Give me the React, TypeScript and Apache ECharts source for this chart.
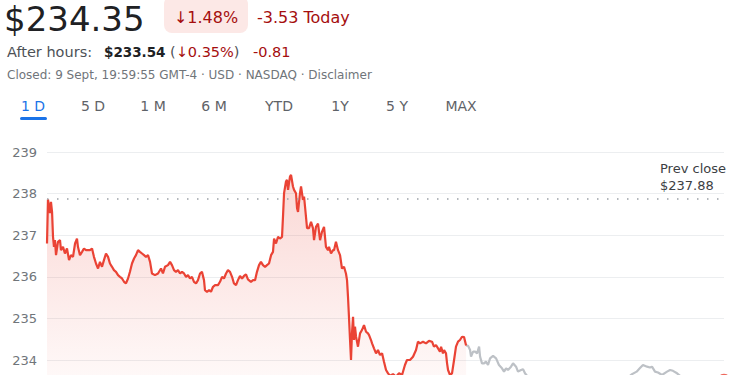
import React, { useEffect, useRef } from "react";
import * as echarts from "echarts";

// Quote header values
const price = "$234.35";
const changePct = "↓1.48%";
const changeAbs = "-3.53 Today";
const afterHoursLabel = "After hours:";
const afterHoursPrice = "$233.54";
const afterHoursPct = "↓0.35%";
const afterHoursAbs = "-0.81";
const closedLine = "Closed: 9 Sept, 19:59:55 GMT-4 · USD · NASDAQ · Disclaimer";
const tabs = ["1 D", "5 D", "1 M", "6 M", "YTD", "1Y", "5 Y", "MAX"];
const prevClose = 237.88;
const yTicks = [233, 234, 235, 236, 237, 238, 239];

// minutes since 09:30, price  (regular session 09:30–16:00)
const sessionData: [number, number][] = [
  [0, 236.8], [0.9, 237.86], [2.8, 237.53], [3.7, 237.8], [4.7, 237.56], [5.6, 236.96],
  [6.5, 236.72], [7.4, 236.88], [8.4, 236.52], [10.2, 236.84], [12.1, 236.88], [13.0, 236.64],
  [14.9, 236.72], [16.7, 236.56], [18.6, 236.68], [20.5, 236.4], [22.3, 236.52], [24.2, 236.48],
  [26.1, 236.8], [27.9, 236.92], [28.8, 236.72], [30.7, 236.52], [32.6, 236.6], [34.4, 236.68],
  [36.3, 236.64], [38.2, 236.64], [40.0, 236.64], [41.9, 236.68], [43.7, 236.48], [45.6, 236.32],
  [47.5, 236.2], [49.3, 236.36], [51.2, 236.24], [53.0, 236.4], [54.9, 236.56], [56.8, 236.48],
  [58.6, 236.32], [60.5, 236.24], [62.3, 236.16], [64.2, 236.12], [66.1, 236.04], [67.9, 236.0],
  [69.8, 235.96], [71.7, 235.88], [73.5, 235.84], [75.4, 235.96], [77.2, 236.12], [79.1, 236.32],
  [81.0, 236.44], [82.8, 236.52], [84.7, 236.64], [86.5, 236.6], [88.4, 236.56], [90.3, 236.52],
  [92.1, 236.48], [94.0, 236.52], [95.9, 236.36], [97.7, 236.08], [100.5, 236.04], [103.3, 236.08],
  [106.1, 236.2], [107.9, 236.08], [109.8, 236.24], [112.6, 236.28], [114.5, 236.36], [116.3, 236.28],
  [118.2, 236.16], [120.0, 236.12], [121.9, 236.16], [123.8, 236.08], [125.6, 236.12], [127.5, 236.08],
  [129.4, 236.0], [131.2, 236.04], [133.1, 235.96], [134.9, 236.0], [136.8, 235.88], [138.7, 235.84],
  [140.5, 235.92], [142.4, 236.08], [144.2, 236.12], [146.1, 235.92], [147.0, 235.68], [148.9, 235.64],
  [150.8, 235.68], [152.6, 235.64], [154.5, 235.76], [156.4, 235.8], [159.1, 235.8], [161.0, 235.88],
  [162.9, 236.0], [164.7, 235.96], [166.6, 236.08], [168.4, 236.16], [170.3, 236.12], [172.2, 236.0],
  [174.0, 235.84], [175.9, 235.8], [177.7, 235.92], [179.6, 236.02], [181.5, 235.96], [183.3, 236.02],
  [185.2, 236.06], [187.0, 235.94], [189.8, 235.88], [191.7, 235.92], [193.6, 235.92], [195.4, 236.12],
  [197.3, 236.28], [199.1, 236.36], [201.0, 236.28], [202.9, 236.24], [204.7, 236.28], [206.6, 236.32],
  [208.5, 236.52], [210.3, 236.6], [211.3, 236.92], [213.1, 236.8], [215.0, 236.96], [216.8, 236.92],
  [218.7, 236.96], [219.6, 237.44], [220.6, 238.01], [222.4, 238.29], [223.3, 238.33], [224.3, 238.09],
  [226.1, 238.41], [227.1, 238.45], [228.9, 238.17], [229.9, 238.09], [231.7, 238.01], [232.7, 237.65],
  [233.6, 237.56], [235.4, 238.01], [236.4, 238.17], [238.2, 237.85], [239.2, 237.93], [240.1, 237.69],
  [242.0, 237.17], [243.8, 237.17], [245.7, 237.32], [247.5, 237.17], [248.5, 236.88], [250.3, 237.2],
  [252.2, 237.28], [254.1, 236.88], [255.9, 237.08], [257.8, 237.2], [259.6, 236.72], [261.5, 236.64],
  [262.4, 236.72], [264.3, 236.56], [266.2, 236.64], [267.1, 236.64], [268.9, 236.84], [270.8, 236.64],
  [272.7, 236.52], [274.5, 236.2], [276.4, 236.24], [278.2, 236.08], [279.2, 235.92], [280.1, 235.52],
  [281.0, 235.04], [282.0, 234.48], [282.9, 234.0], [283.8, 234.64], [284.8, 235.04], [285.7, 234.48],
  [286.6, 234.8], [287.6, 234.56], [289.4, 234.32], [291.3, 234.64], [293.1, 234.72], [295.0, 234.84],
  [296.9, 234.68], [298.7, 234.64], [299.7, 234.6], [301.5, 234.48], [302.5, 234.4], [304.3, 234.28],
  [306.2, 234.16], [308.0, 234.24], [309.9, 234.12], [311.8, 234.16], [313.6, 233.96], [315.5, 233.76],
  [317.4, 233.68], [319.2, 233.62], [322.0, 233.66], [324.8, 233.6], [327.6, 233.68], [330.4, 233.64],
  [333.1, 233.88], [335.0, 234.0], [337.8, 234.0], [340.6, 234.08], [343.4, 234.24], [345.2, 234.44],
  [347.1, 234.4], [349.9, 234.44], [352.7, 234.4], [355.5, 234.46], [358.3, 234.44], [360.1, 234.32],
  [362.0, 234.36], [363.9, 234.28], [365.7, 234.2], [366.7, 234.32], [368.5, 234.16], [369.5, 234.24],
  [371.3, 234.16], [372.3, 233.92], [373.2, 233.76], [375.0, 233.64], [376.9, 233.68], [378.8, 234.0],
  [380.6, 234.32], [382.5, 234.44], [384.3, 234.48], [386.2, 234.56], [388.1, 234.55], [390.0, 234.35],
];

// minutes since 09:30, price  (after hours 16:00–20:00)
const afterHoursData: [number, number][] = [
  [390.0, 234.35], [391.9, 234.34], [393.7, 234.24], [394.6, 234.08], [396.5, 234.2], [398.4, 234.2],
  [400.2, 234.16], [402.1, 234.32], [403.0, 234.08], [404.8, 233.92], [406.7, 233.92], [408.5, 233.96],
  [410.4, 233.88], [412.3, 234.04], [415.1, 234.1], [417.9, 234.04], [420.6, 233.88], [423.4, 233.8],
  [425.3, 233.72], [427.2, 233.8], [429.0, 233.76], [431.8, 233.84], [433.7, 233.92], [436.5, 233.84],
  [438.3, 233.72], [441.1, 233.76], [443.0, 233.78], [444.8, 233.68], [446.7, 233.62], [450.2, 233.55],
  [459.6, 233.45], [468.1, 233.5], [477.4, 233.4], [486.7, 233.48], [496.0, 233.42], [505.3, 233.5],
  [514.6, 233.45], [523.9, 233.52], [533.2, 233.48], [540.7, 233.58], [544.4, 233.66], [548.7, 233.72],
  [551.6, 233.8], [554.6, 233.88], [558.4, 233.84], [561.1, 233.82], [563.0, 233.84], [565.8, 233.72],
  [568.6, 233.7], [572.3, 233.64], [577.0, 233.72], [579.8, 233.76], [582.5, 233.74], [586.3, 233.68],
  [589.1, 233.62], [598.4, 233.55], [607.7, 233.5], [617.0, 233.58], [624.4, 233.52], [630.0, 233.54],
];

const tabCenters = [33, 93, 153, 214, 279, 340, 397, 461];
const FONT = "'DejaVu Sans', Roboto, sans-serif";

export default function App() {
  const ref = useRef<HTMLDivElement>(null);
  useEffect(() => {
    if (!ref.current) return;
    const chart = echarts.init(ref.current, undefined, { renderer: "svg" });
    const last = afterHoursData[afterHoursData.length - 1];
    const tabGraphics: any[] = tabs.map((t, i) => ({
      type: "text",
      x: tabCenters[i],
      y: 106,
      style: {
        text: t,
        fontFamily: FONT,
        fontSize: 14,
        fill: i === 0 ? "#1a73e8" : "#5f6368",
        align: "center",
        verticalAlign: "middle",
      },
    }));
    const line2 = (x: number, text: string, fill: string, bold = false, size = 14) => ({
      type: "text",
      x,
      y: 52,
      style: {
        text,
        fontFamily: FONT,
        fontSize: size,
        fill,
        fontWeight: bold ? "bold" : "normal",
        verticalAlign: "middle",
      },
    });
    chart.setOption({
      animation: false,
      backgroundColor: "#ffffff",
      textStyle: { fontFamily: FONT },
      grid: { left: 47, top: 152, width: 677, height: 6 * 41.6, outerBoundsMode: "none", containLabel: false },
      xAxis: {
        type: "value",
        min: 0,
        max: 630,
        show: false,
      },
      yAxis: {
        type: "value",
        min: yTicks[0],
        max: yTicks[yTicks.length - 1],
        interval: 1,
        axisLine: { show: false },
        axisTick: { show: false },
        axisLabel: { color: "#70757a", fontSize: 13, margin: 10, fontFamily: FONT, showMinLabel: false },
        splitLine: { lineStyle: { color: "#eceef0", width: 1 } },
      },
      graphic: [
        {
          type: "text",
          x: 4,
          y: 19,
          style: { text: price, fontFamily: FONT, fontSize: 34, fill: "#202124", verticalAlign: "middle" },
        },
        {
          type: "rect",
          shape: { x: 164, y: -4, width: 84, height: 37, r: 8 },
          style: { fill: "#fce8e6" },
        },
        {
          type: "text",
          x: 206,
          y: 17,
          style: { text: changePct, fontFamily: FONT, fontSize: 16, fill: "#a50e0e", align: "center", verticalAlign: "middle" },
        },
        {
          type: "text",
          x: 257,
          y: 17,
          style: { text: changeAbs, fontFamily: FONT, fontSize: 16, fill: "#a50e0e", verticalAlign: "middle" },
        },
        line2(7, afterHoursLabel, "#4d5156", false, 14.5),
        line2(104, afterHoursPrice, "#202124", true, 13.5),
        {
          type: "text",
          x: 170,
          y: 52,
          style: {
            text: `{c|(}{d|${afterHoursPct}}{c|)}`,
            verticalAlign: "middle",
            rich: {
              c: { fontFamily: FONT, fontSize: 14.5, fill: "#4d5156" },
              d: { fontFamily: FONT, fontSize: 14.5, fill: "#a50e0e" },
            },
          },
        },
        line2(253, afterHoursAbs, "#a50e0e", false, 14.5),
        {
          type: "text",
          x: 7,
          y: 75,
          style: { text: closedLine, fontFamily: FONT, fontSize: 12, fill: "#70757a", verticalAlign: "middle" },
        },
        ...tabGraphics,
        {
          type: "rect",
          shape: { x: 20, y: 117, width: 27, height: 3, r: 1.5 },
          style: { fill: "#1a73e8" },
        },
        {
          type: "text",
          x: 660,
          y: 177,
          style: {
            text: `Prev close\n$${prevClose.toFixed(2)}`,
            fontFamily: FONT,
            fontSize: 13,
            lineHeight: 17,
            fill: "#3c4043",
            verticalAlign: "middle",
          },
        },
      ],
      series: [
        {
          type: "line",
          data: sessionData,
          showSymbol: false,
          symbol: "none",
          lineStyle: { color: "#ea4335", width: 2.2 },
          areaStyle: {
            origin: "start",
            color: new echarts.graphic.LinearGradient(0, 0, 0, 1, [
              { offset: 0, color: "rgba(234,67,53,0.30)" },
              { offset: 1, color: "rgba(234,67,53,0.02)" },
            ]),
          },
          markLine: {
            silent: true,
            symbol: "none",
            label: { show: false },
            lineStyle: { color: "#9aa0a6", type: [1.5, 8.5], width: 1.5 },
            data: [{ yAxis: prevClose }],
          },
          z: 3,
        },
        {
          type: "line",
          data: afterHoursData,
          showSymbol: false,
          symbol: "none",
          lineStyle: { color: "#bdc1c6", width: 2.2 },
          z: 2,
        },
        {
          type: "scatter",
          data: [last],
          symbol: "circle",
          symbolSize: 11,
          itemStyle: { color: "#ea4335" },
          z: 4,
        },
      ],
    });
    return () => chart.dispose();
  }, []);
  return (
    <div
      ref={ref}
      style={{ position: "absolute", left: 0, top: 0, width: 750, height: 375 }}
    />
  );
}
